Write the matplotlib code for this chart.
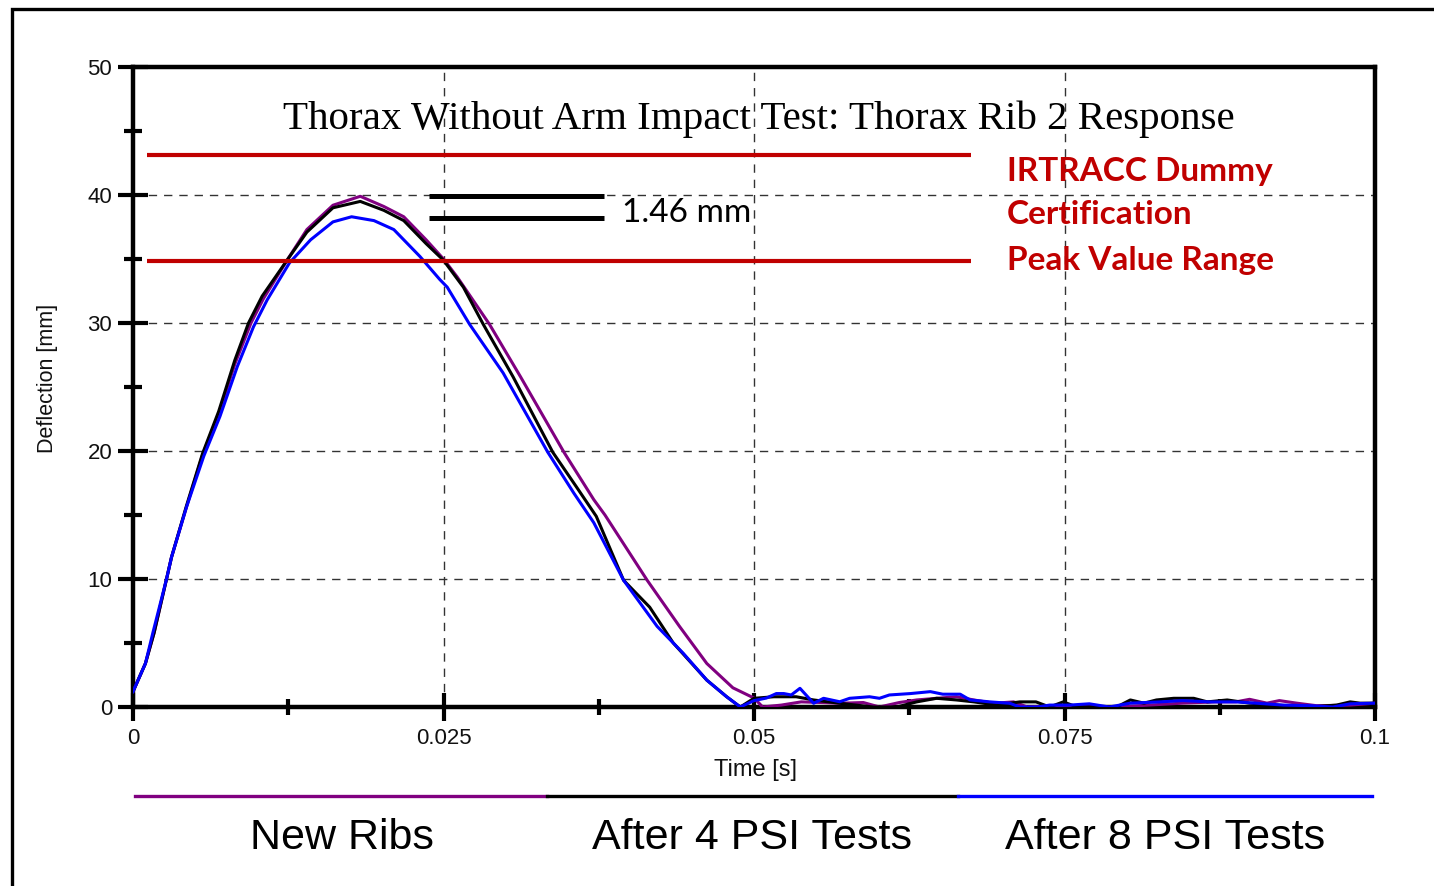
import matplotlib
matplotlib.use("Agg")
import matplotlib.pyplot as plt
from matplotlib.lines import Line2D
from matplotlib.patches import Rectangle

# ---------------- data ----------------
t_new = [0, 0.001, 0.0017, 0.0027, 0.0031, 0.0043, 0.0056, 0.0069, 0.0082, 0.0095,
         0.0105, 0.0124, 0.0140, 0.0161, 0.0183, 0.0202, 0.0218, 0.0236, 0.0250, 0.0261,
         0.0287, 0.0312, 0.0347, 0.0371, 0.0380, 0.0414, 0.0440, 0.0462, 0.0483, 0.0500,
         0.0507, 0.0522, 0.0538, 0.0554, 0.0569, 0.0588, 0.0601, 0.0617, 0.0631, 0.0647,
         0.0663, 0.0677, 0.0693, 0.0709, 0.0720, 0.0749, 0.0760, 0.0792, 0.0818, 0.0845,
         0.0872, 0.0888, 0.0899, 0.0913, 0.0923, 0.0937, 0.0953, 0.0980, 0.1]
d_new = [1.2, 3.4, 5.8, 10.0, 11.7, 15.6, 19.7, 22.9, 26.8, 30.0,
         31.9, 34.9, 37.3, 39.2, 39.9, 39.1, 38.3, 36.5, 35.0, 33.6,
         29.9, 25.8, 19.9, 16.2, 15.0, 9.9, 6.3, 3.4, 1.5, 0.7,
         0.0, 0.15, 0.4, 0.35, 0.29, 0.35, 0.0, 0.35, 0.55, 0.68,
         0.8, 0.55, 0.29, 0.4, 0.0, 0.1, 0.0, 0.0, 0.15, 0.3,
         0.4, 0.4, 0.6, 0.3, 0.5, 0.3, 0.1, 0.15, 0.3]

t_4psi = [0, 0.001, 0.0017, 0.0027, 0.0031, 0.0043, 0.0056, 0.0069, 0.0082, 0.0093,
          0.0104, 0.0124, 0.0140, 0.0161, 0.0183, 0.0202, 0.0218, 0.0236, 0.0250, 0.0266,
          0.0282, 0.0306, 0.0338, 0.0357, 0.0373, 0.0395, 0.0416, 0.0435, 0.0462, 0.0478,
          0.0489, 0.0500, 0.0516, 0.0534, 0.0548, 0.0569, 0.0596, 0.0615, 0.0631, 0.0647,
          0.0663, 0.0677, 0.0695, 0.0714, 0.0727, 0.0738, 0.0749, 0.0760, 0.0792, 0.0803,
          0.0814, 0.0824, 0.0838, 0.0854, 0.0865, 0.0881, 0.0899, 0.0921, 0.0948, 0.0969,
          0.0980, 0.0988, 0.1]
d_4psi = [1.2, 3.4, 5.8, 10.0, 11.7, 15.7, 19.8, 23.1, 27.1, 30.0,
          32.1, 34.9, 37.1, 39.0, 39.5, 38.8, 38.0, 36.2, 34.9, 32.8,
          29.9, 25.8, 19.9, 17.2, 14.9, 9.9, 7.8, 5.0, 2.1, 0.8,
          0.0, 0.68, 0.8, 0.8, 0.55, 0.29, 0.0, 0.0, 0.4, 0.68,
          0.55, 0.4, 0.15, 0.4, 0.4, 0.0, 0.4, 0.0, 0.0, 0.55,
          0.3, 0.55, 0.68, 0.68, 0.4, 0.55, 0.3, 0.15, 0.0, 0.15,
          0.4, 0.3, 0.3]

t_8psi = [0, 0.001, 0.0016, 0.0027, 0.0031, 0.0043, 0.0057, 0.0070, 0.0084, 0.0097,
          0.0108, 0.0126, 0.0143, 0.0161, 0.0176, 0.0194, 0.0210, 0.0231, 0.0247, 0.0253,
          0.0271, 0.0298, 0.0334, 0.0355, 0.0371, 0.0395, 0.0422, 0.0443, 0.0462, 0.0478,
          0.0489, 0.0500, 0.0510, 0.0518, 0.0524, 0.0530, 0.0537, 0.0548, 0.0556, 0.0569,
          0.0577, 0.0593, 0.0601, 0.0609, 0.0626, 0.0642, 0.0652, 0.0666, 0.0674, 0.0690,
          0.0706, 0.0714, 0.0728, 0.0738, 0.0754, 0.0770, 0.0786, 0.0803, 0.0827, 0.0845,
          0.0867, 0.0888, 0.0904, 0.0926, 0.0948, 0.0966, 0.0980, 0.1]
d_8psi = [1.2, 3.4, 5.8, 10.0, 11.7, 15.6, 19.6, 22.7, 26.6, 29.7,
          31.8, 34.7, 36.5, 37.9, 38.3, 38.0, 37.3, 35.2, 33.4, 32.8,
          29.9, 26.1, 19.9, 16.7, 14.4, 9.9, 6.3, 4.2, 2.1, 0.8,
          0.0, 0.5, 0.7, 1.05, 1.05, 0.94, 1.46, 0.29, 0.68, 0.41,
          0.68, 0.8, 0.68, 0.94, 1.05, 1.2, 1.0, 1.0, 0.55, 0.4,
          0.29, 0.0, 0.0, 0.15, 0.15, 0.25, 0.0, 0.3, 0.4, 0.5,
          0.4, 0.4, 0.3, 0.15, 0.1, 0.0, 0.25, 0.3]

series_labels = ["New Ribs", "After 4 PSI Tests", "After 8 PSI Tests"]
series_colors = ["#800080", "#000000", "#0000FF"]

cert_range = [43.1, 34.85]          # IRTRACC certification peak range lines
cert_t = [0.0011, 0.0675]
peak_marks = [39.9, 38.2]           # peak difference markers
peak_t = [0.0238, 0.0379]

x_ticks = [0, 0.025, 0.05, 0.075, 0.1]
x_tick_labels = ["0", "0.025", "0.05", "0.075", "0.1"]
y_ticks = [0, 10, 20, 30, 40, 50]

title = "Thorax Without Arm Impact Test: Thorax Rib 2 Response"

# ---------------- figure ----------------
W, H = 1434, 886
fig = plt.figure(figsize=(W / 100, H / 100), dpi=100)
fig.patch.set_facecolor("white")

def fx(px):
    return px / W

def fy(py):
    return 1 - py / H

ax = fig.add_axes([fx(133), fy(707), fx(1375) - fx(133), fy(67) - fy(707)])
ax.set_xlim(0, 0.1)
ax.set_ylim(0, 50)

ax.set_xticks(x_ticks)
ax.set_xticklabels(x_tick_labels)
ax.set_xticks([0.0125, 0.0375, 0.0625, 0.0875], minor=True)
ax.set_yticks(y_ticks)
ax.set_yticklabels([str(v) for v in y_ticks])
ax.set_yticks([5, 15, 25, 35, 45], minor=True)

for sp in ax.spines.values():
    sp.set_linewidth(3.2)
    sp.set_color("black")

ax.tick_params(axis="y", which="major", direction="inout", length=22, width=3, pad=4,
               labelsize=16, labelcolor="#111111")
ax.tick_params(axis="y", which="minor", direction="inout", length=13, width=3)
ax.tick_params(axis="x", which="major", direction="inout", length=20, width=3, pad=5,
               labelsize=16, labelcolor="#111111")
ax.tick_params(axis="x", which="minor", direction="inout", length=11, width=3)
for lab in ax.get_xticklabels() + ax.get_yticklabels():
    lab.set_family("Liberation Sans")

ax.grid(True, which="major", linestyle=(0, (6, 5)), linewidth=1.0, color="#333333")
ax.set_axisbelow(True)

# curves
for t, d, c in zip([t_new, t_4psi, t_8psi], [d_new, d_4psi, d_8psi], series_colors):
    ax.plot(t, d, color=c, linewidth=2.2, zorder=3)

# certification range lines
ax.hlines(cert_range, cert_t[0], cert_t[1], color="#C00000", linewidth=3.0, zorder=4)
# peak difference markers
ax.hlines(peak_marks, peak_t[0], peak_t[1], color="black", linewidth=3.6, zorder=4)

ax.text(0.0394, 38.6, "1.46 mm", fontsize=24, family="Lato", va="center", ha="left",
        color="black", zorder=5)

for txt, ypx in zip(["IRTRACC Dummy", "Certification", "Peak Value Range"], [171, 214, 260]):
    fig.text(fx(1007), fy(ypx), txt, fontsize=24, family="Lato", fontweight="bold",
             color="#C00000", ha="left", va="center")

fig.text(fx(759), fy(119), title, fontsize=29.5, family="Liberation Serif",
         ha="center", va="center", color="black")

fig.text(fx(48), fy(378), "Deflection [mm]", rotation=90, fontsize=15.5,
         family="Liberation Sans", ha="center", va="center", color="#111111")
fig.text(fx(755), fy(770), "Time [s]", fontsize=17, family="Liberation Sans",
         ha="center", va="center", color="#111111")

# legend (line segment above each label)
leg_x = [(135, 547), (547, 958), (958, 1372)]
leg_cx = [342, 752, 1165]
for (x0, x1), cx, c, lab in zip(leg_x, leg_cx, series_colors, series_labels):
    fig.add_artist(Line2D([fx(x0), fx(x1)], [fy(796), fy(796)], color=c, linewidth=2.4))
    fig.text(fx(cx), fy(838), lab, fontsize=31, family="Liberation Sans",
             ha="center", va="center", color="black")

# outer frame
fig.add_artist(Rectangle((fx(12), -0.1), 1.2, fy(9) + 0.1, fill=False,
                         edgecolor="black", linewidth=2.4, transform=fig.transFigure))

fig.savefig("out.png", dpi=100, facecolor="white")
